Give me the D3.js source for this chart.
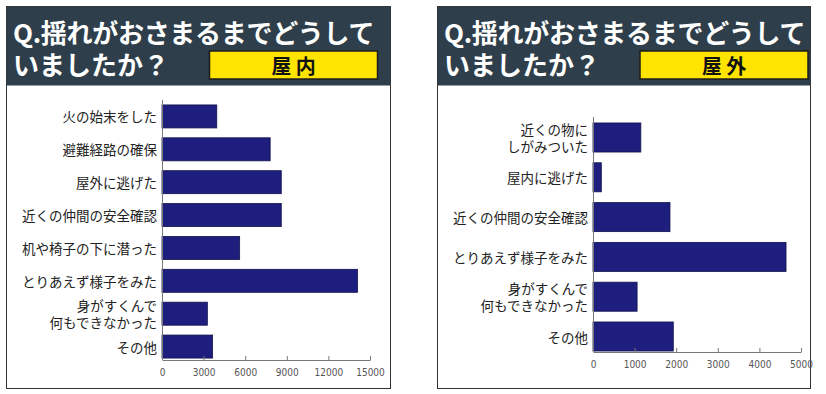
<!DOCTYPE html>
<html>
<head>
<meta charset="utf-8">
<script src="https://cdn.jsdelivr.net/npm/d3@7"></script>
<style>
  body { margin: 0; background: #fff; }
  text { font-family: "Noto Sans CJK JP", "Noto Sans", sans-serif; }
  .tick text { font-family: "DejaVu Sans Condensed", "DejaVu Sans", sans-serif; }
</style>
</head>
<body>
<div id="wrapper"></div>
<script>
// data
const titleLine1 = "Q.揺れがおさまるまでどうして"
const titleLine2 = "いましたか？"

const indoorLabel = "屋 内"
const indoorCategories = ["火の始末をした", "避難経路の確保", "屋外に逃げた", "近くの仲間の安全確認",
  "机や椅子の下に潜った", "とりあえず様子をみた", "身がすくんで\n何もできなかった", "その他"]
const indoorValues = [3950, 7800, 8600, 8600, 5600, 14100, 3270, 3650]
const indoorTicks = [0, 3000, 6000, 9000, 12000, 15000]

const outdoorLabel = "屋 外"
const outdoorCategories = ["近くの物に\nしがみついた", "屋内に逃げた", "近くの仲間の安全確認",
  "とりあえず様子をみた", "身がすくんで\n何もできなかった", "その他"]
const outdoorValues = [1150, 200, 1850, 4640, 1060, 1930]
const outdoorTicks = [0, 1000, 2000, 3000, 4000, 5000]

const svg = d3.select("#wrapper")
  .append("svg")
  .attr("width", 826)
  .attr("height", 394)

function drawPanel(opts) {
  const g = svg.append("g")

  // frame + header
  g.append("rect")
    .attr("x", opts.left + 0.5).attr("y", 6.5)
    .attr("width", opts.width).attr("height", 382)
    .attr("fill", "#fff").attr("stroke", "#333")
  g.append("rect")
    .attr("x", opts.left + 0.5).attr("y", 6.5)
    .attr("width", opts.width).attr("height", 79)
    .attr("fill", "#2e3e4a")

  g.append("text")
    .attr("x", opts.left + 7).attr("y", 43)
    .attr("fill", "#fff")
    .style("font-size", "26px").style("font-weight", "bold")
    .style("letter-spacing", "-0.3px")
    .text(titleLine1)
  g.append("text")
    .attr("x", opts.left + 7).attr("y", 75)
    .attr("fill", "#fff")
    .style("font-size", "26px").style("font-weight", "bold")
    .text(titleLine2)

  g.append("rect")
    .attr("x", opts.boxX).attr("y", 51)
    .attr("width", 168).attr("height", 28)
    .attr("fill", "#ffe400").attr("stroke", "#1c1c1c").attr("stroke-width", 1.5)
  g.append("text")
    .attr("x", opts.boxX + 84).attr("y", 65)
    .attr("text-anchor", "middle").attr("dominant-baseline", "central")
    .attr("fill", "#111")
    .style("font-size", "20px").style("font-weight", "bold")
    .text(opts.label)

  // scales
  const xScale = d3.scaleLinear()
    .domain([0, opts.ticks[opts.ticks.length - 1]])
    .range([opts.axisX, opts.axisX + 208])

  const yScale = d3.scaleBand()
    .domain(opts.categories)
    .range(opts.yRange)
    .paddingInner(opts.padding)
    .paddingOuter(0.15)

  // bars
  g.selectAll(".bar")
    .data(opts.values)
    .enter()
    .append("rect")
      .attr("class", "bar")
      .attr("x", xScale(0))
      .attr("y", (d, i) => yScale(opts.categories[i]))
      .attr("width", d => xScale(d) - xScale(0))
      .attr("height", yScale.bandwidth())
      .attr("fill", "#1e1e7f")
      .attr("stroke", "#12124d")
      .attr("stroke-width", 0.8)

  // category labels, two-line ones split into tspans
  const labels = g.selectAll(".cat")
    .data(opts.categories)
    .enter()
    .append("text")
      .attr("class", "cat")
      .attr("text-anchor", "end")
      .attr("fill", "#222")
      .style("font-size", "13.5px")

  labels.each(function(d) {
    const lines = d.split("\n")
    const cy = yScale(d) + yScale.bandwidth() / 2
    const t = d3.select(this)
    lines.forEach((line, k) => {
      t.append("tspan")
        .attr("x", opts.axisX - 5)
        .attr("y", cy + (k - (lines.length - 1) / 2) * 17.5)
        .attr("dominant-baseline", "central")
        .text(line)
    })
  })

  // axes
  const xAxis = g.append("g")
    .attr("transform", `translate(0, ${opts.axisY})`)
    .call(d3.axisBottom(xScale)
      .tickValues(opts.ticks)
      .tickFormat(d3.format("d"))
      .tickSizeInner(-4).tickSizeOuter(0).tickPadding(9))
  xAxis.select(".domain").attr("stroke", "#777")
  xAxis.selectAll(".tick line").attr("stroke", "#777")
  xAxis.selectAll(".tick text").attr("fill", "#555").style("font-size", "10px")

  g.append("line")
    .attr("x1", opts.axisX + 0.5).attr("x2", opts.axisX + 0.5)
    .attr("y1", opts.yRange[0]).attr("y2", opts.axisY)
    .attr("stroke", "#777")
}

drawPanel({
  left: 6, width: 384, boxX: 209.5, label: indoorLabel,
  categories: indoorCategories, values: indoorValues, ticks: indoorTicks,
  axisX: 162, axisY: 360, yRange: [100, 363], padding: 0.3
})

drawPanel({
  left: 437, width: 373, boxX: 640, label: outdoorLabel,
  categories: outdoorCategories, values: outdoorValues, ticks: outdoorTicks,
  axisX: 593, axisY: 352, yRange: [117, 357], padding: 0.27
})
</script>
</body>
</html>
